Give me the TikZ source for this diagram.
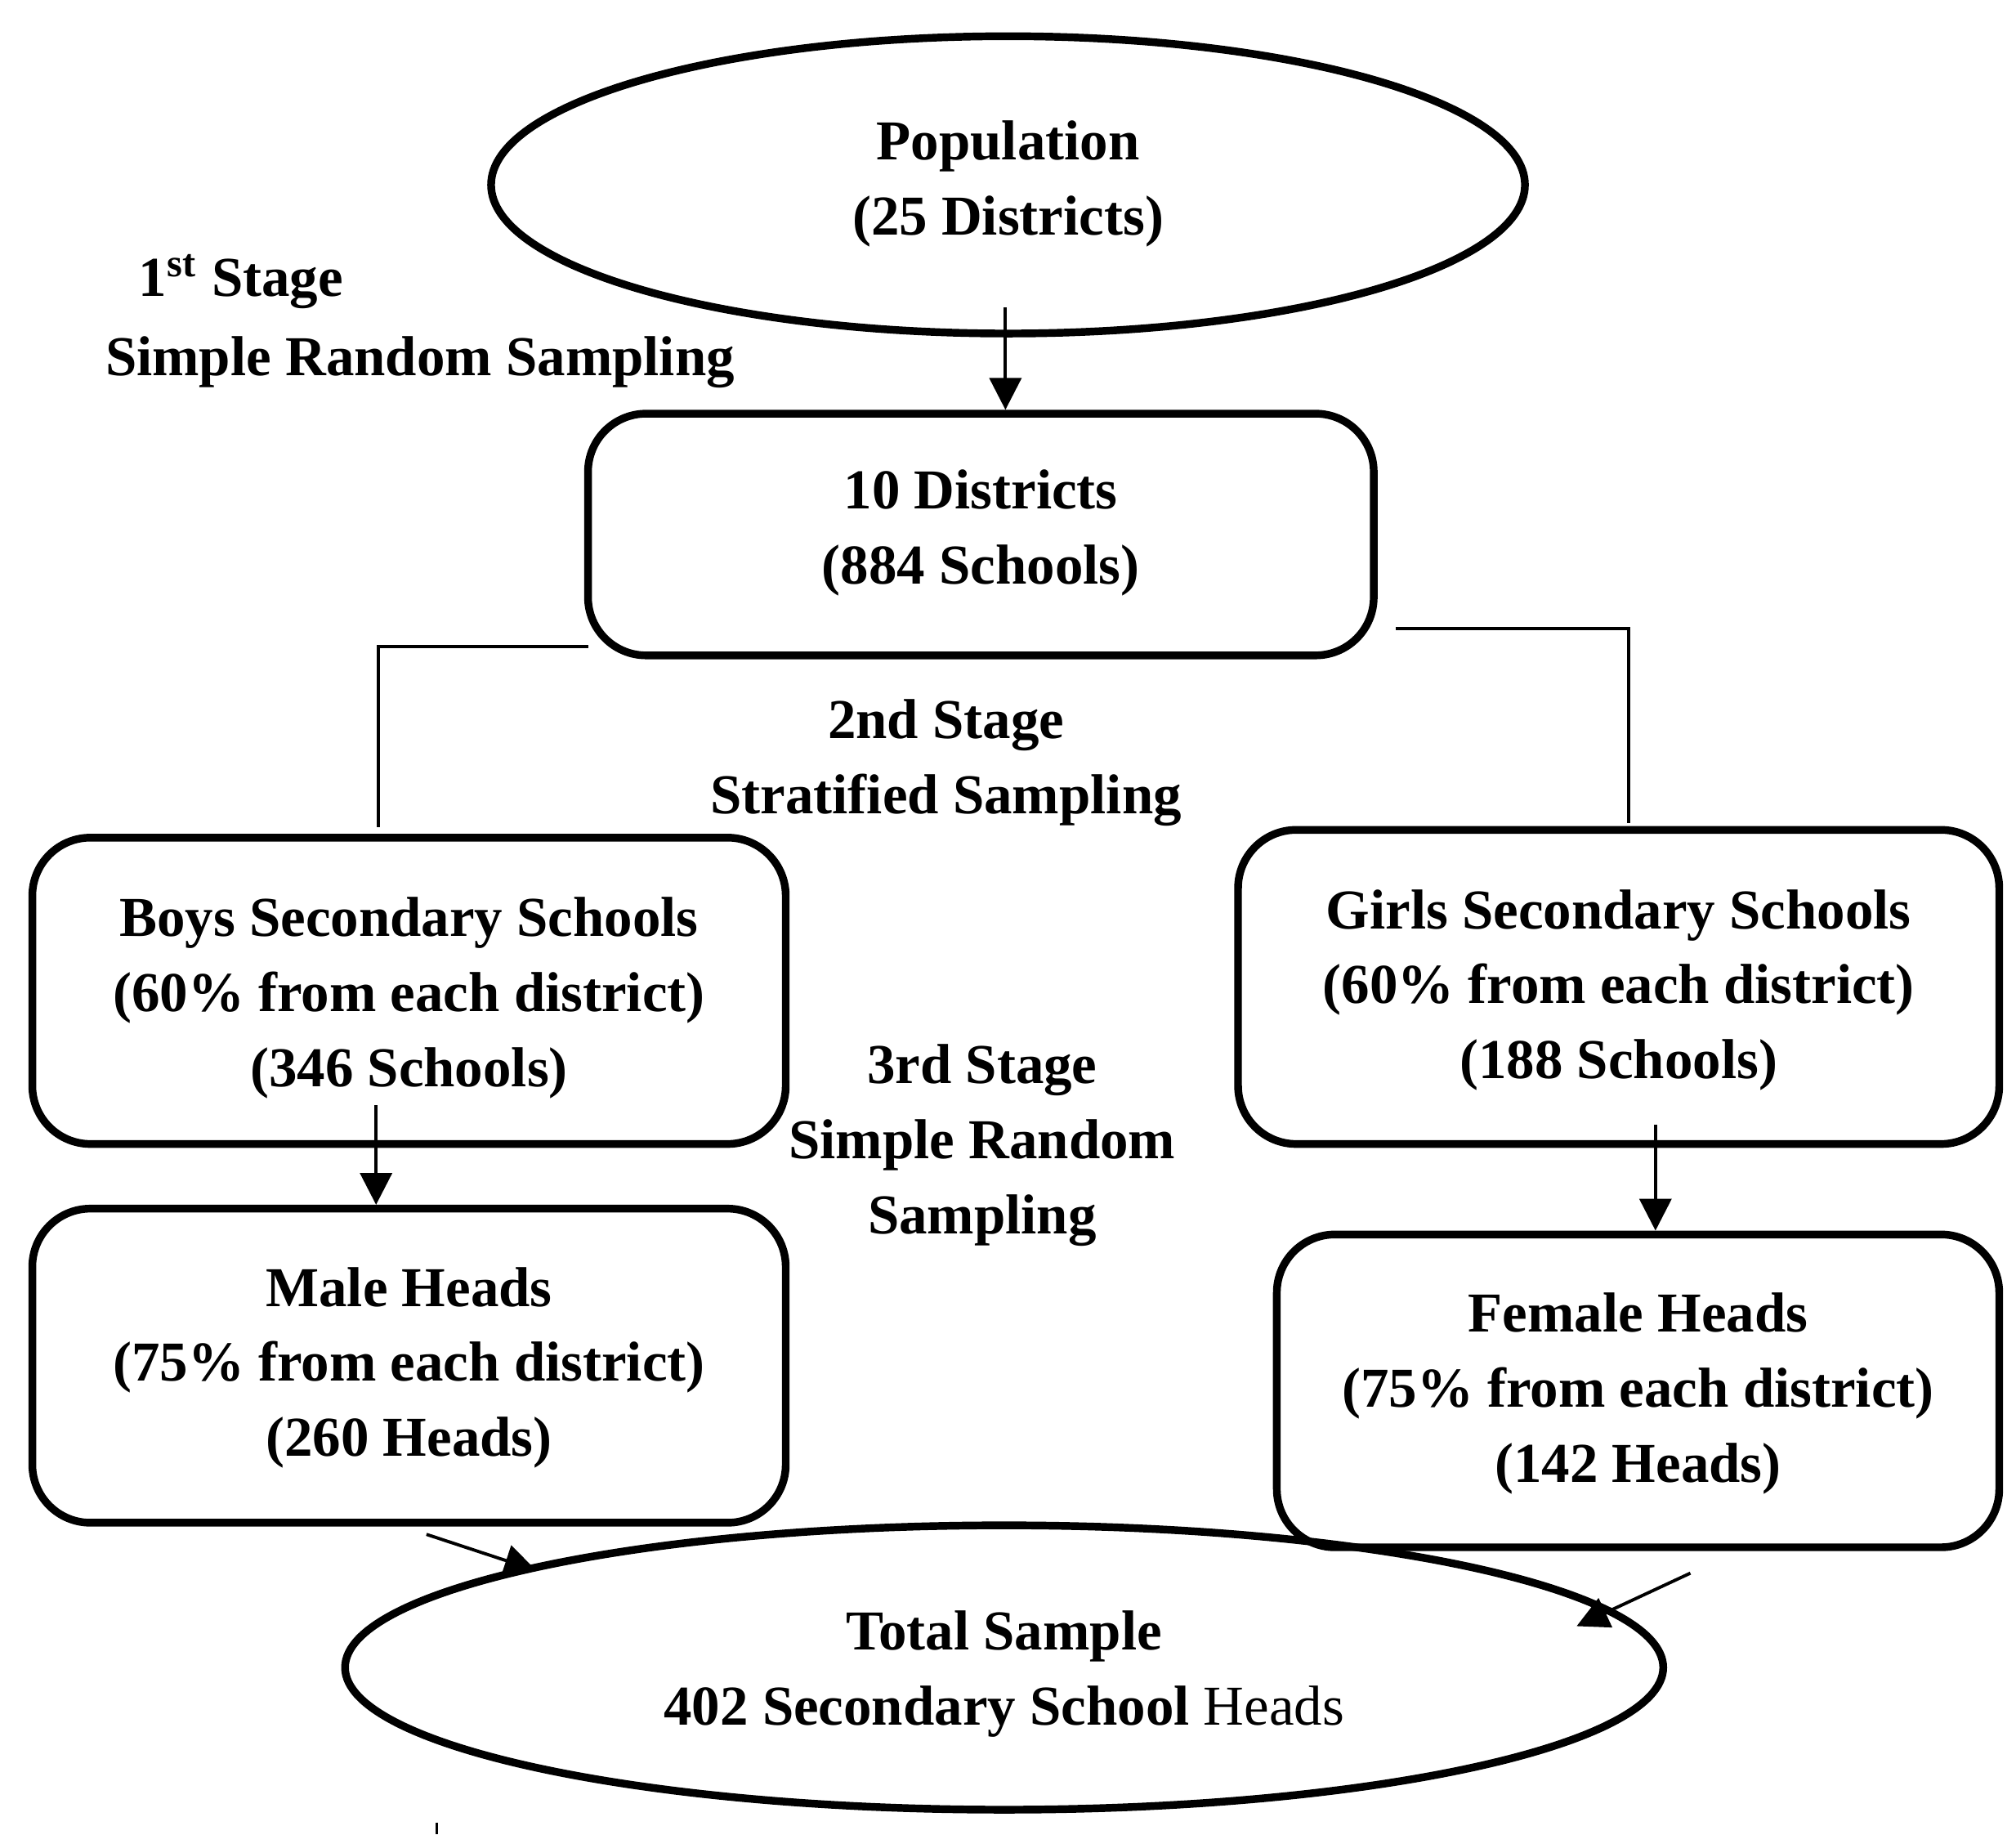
\documentclass[tikz,border=0pt]{standalone}
\usepackage{fontspec}
\setmainfont{Liberation Serif}
\usetikzlibrary{arrows.meta}
\begin{document}
\begin{tikzpicture}[
  txt/.style={font=\bfseries\fontsize{12.4}{16.5}\selectfont, align=center},
  box/.style={draw, line width=1.7pt, rounded corners=0.45cm, inner sep=0pt},
  con/.style={line width=0.7pt},
  arr/.style={line width=0.7pt, -{Triangle[length=7pt,width=7pt]}}
]
\useasboundingbox (0,0) rectangle (15.6,-14.19);
% Population ellipse
\draw[line width=1.7pt] (7.8,-1.43) ellipse (4.0 and 1.15);
\node[txt] (pop) at (7.8,-1.42) {Population\\(25 Districts)};
\node[txt, anchor=west] (s1) at (0.95,-2.18) {1\textsuperscript{st} Stage};
\node[txt] (s1b) at (3.25,-2.8) {Simple Random Sampling};
% 10 Districts
\node[box, minimum width=6.08cm, minimum height=1.87cm] (dist) at (7.59,-4.135) {};
\node[txt] at (7.59,-4.12) {10 Districts\\(884 Schools)};
\coordinate (pb) at (7.78,-2.38);
\draw[arr] (pb) -- (dist.north -| pb);
% branch lines
\coordinate (l1) at (4.55,-5.0);
\coordinate (l2) at (2.93,-5.0);
\coordinate (l3) at (2.93,-6.4);
\coordinate (r1) at (10.8,-4.86);
\coordinate (r2) at (12.6,-4.86);
\coordinate (r3) at (12.6,-6.37);
\draw[con] (l1) -- (l2) -- (l3);
\draw[con] (r1) -- (r2) -- (r3);
\node[txt] (s2) at (7.32,-5.9) {2nd Stage\\Stratified Sampling};
% Boys
\node[box, minimum width=5.83cm, minimum height=2.37cm] (boys) at (3.165,-7.665) {};
\node[txt] at (3.165,-7.72) {Boys Secondary Schools\\(60\% from each district)\\(346 Schools)};
% Girls
\node[box, minimum width=5.89cm, minimum height=2.43cm] (girls) at (12.525,-7.635) {};
\node[txt] at (12.525,-7.66) {Girls Secondary Schools\\(60\% from each district)\\(188 Schools)};
\node[txt] (s3) at (7.6,-8.86) {3rd Stage\\Simple Random\\Sampling};
% Male
\node[box, minimum width=5.83cm, minimum height=2.43cm] (male) at (3.165,-10.565) {};
\node[txt] at (3.165,-10.58) {Male Heads\\(75\% from each district)\\(260 Heads)};
% Female
\node[box, minimum width=5.59cm, minimum height=2.42cm] (female) at (12.675,-10.76) {};
\node[txt] at (12.675,-10.78) {Female Heads\\(75\% from each district)\\(142 Heads)};
\coordinate (ba) at (2.91,-8.55);
\draw[arr] (ba) -- (male.north -| ba);
\coordinate (ga) at (12.81,-8.7);
\draw[arr] (ga) -- (female.north -| ga);
% Total
\draw[line width=1.7pt] (7.77,-12.9) ellipse (5.1 and 1.1);
\node[txt] (tot) at (7.77,-12.95) {Total Sample\\402 Secondary School {\mdseries Heads}};
\coordinate (m1) at (3.3,-11.87);
\coordinate (m2) at (4.15,-12.15);
\draw[arr] (m1) -- (m2);
\coordinate (f1) at (13.08,-12.17);
\coordinate (f2) at (12.2,-12.58);
\draw[arr] (f1) -- (f2);
\coordinate (t1) at (3.38,-14.1);
\coordinate (t2) at (3.38,-14.19);
\draw[line width=0.5pt] (t1) -- (t2);
\end{tikzpicture}
\end{document}
